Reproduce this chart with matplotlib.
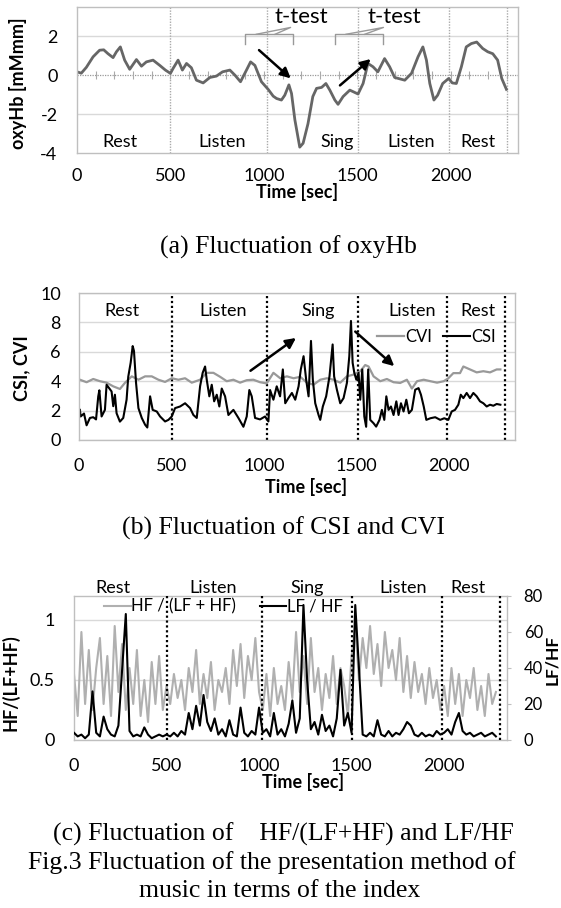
import matplotlib
matplotlib.use("Agg")
import matplotlib.pyplot as plt

plt.rcParams['font.family'] = ['Lato', 'DejaVu Sans']
plt.rcParams['axes.unicode_minus'] = False

# ---------------------------------------------------------------- data
phase_names = ['Rest', 'Listen', 'Sing', 'Listen', 'Rest']
phase_edges = [500, 1015, 1505, 1990, 2300]
time_ticks = [0, 500, 1000, 1500, 2000]

# (a) oxyHb
oxy_t = [0, 23, 50, 86, 121, 143, 166, 193, 211, 232, 255, 282, 318, 345, 371, 407, 443, 473, 500, 514,
         541, 564, 586, 612, 639, 675, 711, 746, 779, 818, 845, 875, 907, 929, 952, 987, 1023, 1050, 1068, 1094,
         1112, 1134, 1148, 1166, 1192, 1210, 1236, 1262, 1282, 1309, 1332, 1353, 1380, 1397, 1424, 1460, 1504, 1531, 1557, 1584,
         1610, 1646, 1673, 1700, 1754, 1790, 1825, 1851, 1870, 1888, 1910, 1930, 1957, 1989, 2008, 2030, 2057, 2083, 2110, 2139,
         2171, 2198, 2225, 2251, 2273, 2298]
oxy_v = [0.17, 0.1, 0.4, 0.94, 1.28, 1.3, 1.1, 0.9, 1.2, 1.45, 0.77, 0.3, 0.8, 0.46, 0.68, 0.77, 0.5, 0.26, 0.09, 0.34,
         0.77, 0.26, 0.6, 0.38, -0.26, -0.4, -0.12, -0.05, 0.17, 0.26, 0, -0.34, 0.26, 0.68, 0.5, -0.34, -0.73, -1.08, -1.2, -1.28,
         -1.03, -0.5, -0.94, -2.3, -3.7, -3.5, -2.5, -1.1, -0.68, -0.63, -0.43, -0.77, -1.28, -1.5, -1.1, -0.77, -0.97, -0.43, 0.6, 0.43,
         0.17, 0.85, 0.43, -0.12, -0.26, 0.09, 0.94, 1.45, 0.77, -0.43, -1.28, -1.03, -0.43, -0.17, -0.4, -0.43, 0.43, 1.45, 1.62, 1.7,
         1.37, 1.2, 1.1, 0.77, -0.17, -0.73]

# (b) CSI and CVI
csi_t = [5, 9, 27, 41, 59, 77, 92, 104, 110, 122, 140, 149, 164, 176, 185, 194, 203, 221, 239, 257,
         266, 279, 290, 297, 308, 321, 339, 357, 369, 384, 398, 420, 438, 465, 483, 501, 519, 546, 573, 600,
         618, 636, 654, 668, 681, 690, 704, 717, 730, 744, 758, 771, 789, 807, 834, 861, 888, 906, 920, 933,
         951, 978, 1005, 1023,
         1032, 1050, 1068, 1086, 1101, 1114, 1131, 1150, 1168, 1186, 1198, 1213, 1227, 1240, 1253, 1263, 1276, 1294, 1303, 1317,
         1335, 1353, 1370, 1378, 1393, 1411, 1429, 1447, 1460, 1469, 1478, 1487, 1498, 1510, 1519, 1530, 1541, 1551, 1562, 1573,
         1591, 1605, 1623, 1636, 1649, 1660, 1672, 1685, 1699, 1714, 1726, 1739, 1753, 1768, 1782, 1798, 1816, 1834, 1847, 1862,
         1876, 1898, 1924, 1951, 1973, 1995, 2013, 2031, 2049, 2062, 2076, 2094, 2112, 2130, 2148, 2166, 2184, 2202, 2220, 2238,
         2256, 2276]
csi_v = [2.05, 1.6, 1.8, 1.0, 1.5, 1.55, 1.4, 2.97, 3.38, 1.6, 2.05, 3.76, 3.5, 3.3, 2.3, 3.08, 1.82, 1.25, 1.5, 2.74,
         4.3, 5.25, 6.39, 6.05, 3.9, 2.17, 1.5, 1.04, 0.85, 2.97, 2.05, 1.94, 1.6, 1.26, 1.37, 1.6, 2.17, 2.28, 2.5, 2.17,
         1.7, 1.5, 3.65, 4.57, 5.0, 4.1, 2.97, 3.76, 2.63, 3.08, 2.28, 3.5, 2.97, 1.7, 2.05, 1.5, 0.9, 1.6, 3.4, 2.97,
         1.5, 1.4, 1.6, 1.26,
         3.4, 2.74, 3.65, 2.97, 4.8, 2.5, 2.85, 3.2, 2.74, 3.65, 4.8, 5.7, 4.1, 2.97, 6.74, 4.1, 2.5, 1.7, 1.37, 2.28,
         2.97, 4.33, 6.5, 4.33, 3.42, 2.5, 2.85, 3.88, 5.7, 8.1, 5.25, 4.57, 4.1, 4.57, 2.74, 4.8, 1.6, 0.9, 4.8, 1.37,
         1.14, 0.91, 1.37, 2.05, 1.37, 2.97, 2.05, 2.28, 1.7, 2.63, 1.7, 2.5, 1.94, 2.74, 1.82, 2.05, 3.42, 3.53, 3.08, 2.28,
         1.37, 1.48, 1.55, 1.37, 1.48, 1.37, 1.94, 2.05, 2.4, 3.08, 2.85, 3.2, 2.85, 3.2, 2.97, 2.63, 2.5, 2.28, 2.4, 2.33,
         2.45, 2.4]
cvi_t = [5, 41, 77, 113, 149, 185, 221, 249, 285, 321, 357, 393, 429, 465, 501, 537, 573, 609, 654, 690,
         726, 762, 798, 834, 870, 906, 942, 978, 1014, 1050, 1087, 1123, 1159, 1195,
         1231, 1267, 1303, 1339, 1375, 1411, 1447, 1483, 1519, 1546, 1564, 1591, 1627, 1663, 1699, 1735,
         1771, 1798, 1826, 1862, 1898, 1934, 1970, 1995, 2022, 2058, 2076, 2112, 2148, 2184, 2220, 2256, 2276]
cvi_v = [4.1, 3.93, 4.15, 4.0, 3.9, 3.65, 3.47, 3.9, 4.33, 4.1, 4.33, 4.33, 4.1, 3.95, 4.2, 4.1, 4.2, 3.9, 4.1, 4.57,
         4.57, 4.3, 4.0, 4.1, 3.9, 4.07, 4.1, 3.93, 3.85, 4.57, 4.2, 4.33, 4.2, 4.3,
         3.9, 3.76, 4.1, 4.2, 4.1, 3.9, 4.33, 4.45, 4.68, 5.1, 5.0, 4.33, 4.0, 4.15, 3.93, 3.88,
         4.1, 3.5, 4.0, 4.1, 4.0, 3.9, 4.0, 4.2, 4.55, 4.55, 5.0, 4.8, 4.6, 4.68, 4.6, 4.8, 4.8]

# (c) HF/(LF+HF) and LF/HF, one sample every 20 s
hrv_t = list(range(0, 2281, 20))
hf_ratio = [0.55, 0.2, 0.9, 0.3, 0.75, 0.25, 0.6, 0.85, 0.3, 0.7, 0.2, 0.95, 0.4, 0.8, 0.25, 0.6, 0.3, 0.75, 0.2, 0.5,
            0.15, 0.65, 0.3, 0.7, 0.25,
            0.45, 0.3, 0.55, 0.35, 0.5, 0.25, 0.6, 0.4, 0.75, 0.3, 0.55, 0.35, 0.65, 0.25, 0.5, 0.4, 0.6, 0.3, 0.75, 0.45,
            0.8, 0.35, 0.7, 0.5, 0.85,
            0.4, 0.25, 0.55, 0.2, 0.6, 0.3, 0.45, 0.25, 0.65, 0.35, 0.9, 0.4, 0.7, 0.3, 0.85, 0.4, 0.6, 0.25, 0.55, 0.35,
            0.7, 0.3, 0.6, 0.45, 0.2,
            0.7, 0.95, 0.5, 0.85, 0.6, 0.95, 0.55, 0.8, 0.45, 0.9, 0.6, 0.75, 0.5, 0.85, 0.4, 0.7, 0.35, 0.65, 0.4, 0.55,
            0.3, 0.6, 0.35, 0.5, 0.25,
            0.45, 0.2, 0.6, 0.3, 0.55, 0.2, 0.5, 0.35, 0.6, 0.25, 0.45, 0.2, 0.55, 0.3, 0.4]
lf_hf = [4, 2, 3, 1, 3, 27, 4, 2, 13, 6, 3, 2, 8, 39, 70, 5, 2, 3, 2, 7, 3, 1, 2, 3, 2,
         3, 2, 4, 2, 5, 3, 15, 6, 19, 8, 25, 10, 5, 12, 3, 6, 2, 11, 3, 2, 18, 4, 2, 5, 3,
         18, 4, 6, 2, 15, 3, 6, 2, 9, 22, 4, 12, 75, 33, 6, 10, 3, 14, 5, 8, 2, 12, 39, 8, 15,
         4, 75, 40, 3, 2, 4, 2, 11, 3, 2, 5, 2, 4, 3, 6, 10, 8, 3, 2, 4, 2, 3, 2, 5, 3,
         4, 6, 3, 10, 15, 5, 3, 4, 2, 3, 4, 2, 3, 4, 2]

# ---------------------------------------------------------------- style
GRID = '#d9d9d9'
FRAME = '#bfbfbf'
TICK_FS = 13
LAB_FS = 13
LEG_FS = 12
CAP_FS = 18.5
SERIF = ['Liberation Serif', 'DejaVu Serif']

W, H = 561, 908
fig = plt.figure(figsize=(W / 100, H / 100), dpi=100)


def box(x0, y0, x1, y1):
    # pixel box (top-left origin) -> figure fraction rect
    return [x0 / W, 1 - y1 / H, (x1 - x0) / W, (y1 - y0) / H]


def ftext(x, y, s, **kw):
    fig.text(x / W, 1 - y / H, s, **kw)


def style_axes(ax, pad_x, pad_y):
    for sp in ax.spines.values():
        sp.set_color(FRAME)
        sp.set_linewidth(1.0)
    ax.tick_params(axis='both', length=0, labelsize=TICK_FS)
    ax.tick_params(axis='x', pad=pad_x)
    ax.tick_params(axis='y', pad=pad_y)
    ax.set_xticks(time_ticks)
    ax.set_axisbelow(True)


# ---------------------------------------------------------------- (a)
ax1 = fig.add_axes(box(77, 7, 518, 153))
style_axes(ax1, 11, 14)
ax1.set_xlim(0, 2360)
ax1.set_ylim(-4, 3.5)
ax1.set_yticks([-4, -2, 0, 2])
for yv in [-2, 2]:
    ax1.axhline(yv, color=GRID, lw=1)
ax1.axhline(0, color='#999999', lw=0.9, ls=(0, (1, 1)))
ax1.plot(range(0, 2301, 100), [0] * 24, ls='none', marker='|', ms=6, mew=0.8, color='#aaaaaa')
for xe in phase_edges:
    ax1.axvline(xe, color='#aaaaaa', lw=1.0, ls=(0, (1, 1)))
ax1.plot(oxy_t, oxy_v, color='#666666', lw=2.0, solid_joinstyle='round')
for name, xc in zip(phase_names, [230, 775, 1390, 1790, 2145]):
    ax1.text(xc, -3.45, name, ha='center', va='center', fontsize=LAB_FS)

# t-test brackets
for (b0, b1, tx) in [(900, 1155, 1203), (1380, 1636, 1700)]:
    ax1.plot([b0, b0, b1, b1], [1.6, 2.1, 2.1, 1.6], color='#999999', lw=1)
    ax1.plot([b0 + 60, tx - 60, b0 + 160], [2.1, 2.45, 2.1], color='#999999', lw=1)
    ax1.text(tx, 3.0, 't-test', ha='center', va='center', fontsize=16)
arrow_kw = dict(arrowstyle='-|>,head_length=0.6,head_width=0.3', color='black', lw=1.8)
ax1.annotate('', xy=(1155, -0.26), xytext=(963, 1.38), arrowprops=arrow_kw)
ax1.annotate('', xy=(1583, 0.92), xytext=(1396, -0.62), arrowprops=arrow_kw)

ftext(18, 83, 'oxyHb [mMmm]', rotation=90, ha='center', va='center', fontsize=LAB_FS, fontweight='bold')
ftext(297, 192, 'Time [sec]', ha='center', va='center', fontsize=LAB_FS, fontweight='bold')
ftext(288, 247, '(a) Fluctuation of oxyHb', ha='center', va='center', fontsize=CAP_FS, family=SERIF)

# ---------------------------------------------------------------- (b)
ax2 = fig.add_axes(box(79, 293, 515, 440))
style_axes(ax2, 13, 13)
ax2.set_xlim(0, 2355)
ax2.set_ylim(0, 10)
ax2.set_yticks([0, 2, 4, 6, 8, 10])
ax2.grid(axis='y', color=GRID, lw=1)
for xe in phase_edges:
    ax2.axvline(xe, color='black', lw=1.6, ls=(0, (1, 1.2)))
ax2.plot(cvi_t, cvi_v, color='#999999', lw=1.6, label='CVI')
ax2.plot(csi_t, csi_v, color='black', lw=1.5, label='CSI')
for name, xc in zip(phase_names, [232, 780, 1292, 1800, 2157]):
    ax2.text(xc, 8.75, name, ha='center', va='center', fontsize=LAB_FS)
ax2.annotate('', xy=(1184, 7.05), xytext=(914, 4.6), arrowprops=arrow_kw)
ax2.annotate('', xy=(1714, 4.9), xytext=(1481, 7.5), arrowprops=arrow_kw)
ax2.legend(loc='center', bbox_to_anchor=(0.82, 0.70), ncol=2, frameon=False, fontsize=LEG_FS,
           handlelength=1.6, handletextpad=0.05, columnspacing=0.7, borderpad=0)

ftext(22, 368, 'CSI, CVI', rotation=90, ha='center', va='center', fontsize=LAB_FS, fontweight='bold')
ftext(306, 487, 'Time [sec]', ha='center', va='center', fontsize=LAB_FS, fontweight='bold')
ftext(283, 528, '(b) Fluctuation of CSI and CVI', ha='center', va='center', fontsize=CAP_FS, family=SERIF)

# ---------------------------------------------------------------- (c)
ax3 = fig.add_axes(box(74, 596, 507, 740))
style_axes(ax3, 13, 14)
ax3.set_xlim(0, 2340)
ax3.set_ylim(0, 1.2)
ax3.set_yticks([0, 0.5, 1])
ax3.set_yticklabels(['0', '0.5', '1'])
ax3.grid(axis='y', color=GRID, lw=1)
l1, = ax3.plot(hrv_t, hf_ratio, color='#b0b0b0', lw=1.5, label='HF / (LF + HF)')
ax3r = ax3.twinx()
ax3r.set_ylim(0, 80)
ax3r.set_yticks([0, 20, 40, 60, 80])
for sp in ax3r.spines.values():
    sp.set_visible(False)
ax3r.tick_params(axis='y', length=3, color=FRAME, labelsize=12, pad=9)
l2, = ax3r.plot(hrv_t, lf_hf, color='black', lw=1.5, label='LF / HF')
for xe in phase_edges:
    ax3r.axvline(xe, color='black', lw=1.6, ls=(0, (1, 1.2)))
ax3r.legend(handles=[l1, l2], loc='center', bbox_to_anchor=(0.345, 0.925), ncol=2, frameon=False,
            fontsize=LEG_FS, handlelength=1.6, handletextpad=0.05, columnspacing=1.4, borderpad=0)
for name, xc in zip(phase_names, [211, 751, 1259, 1778, 2130]):
    ax3.text(xc, 1.27, name, ha='center', va='center', fontsize=LAB_FS, clip_on=False)

ftext(10, 683, 'HF/(LF+HF)', rotation=90, ha='center', va='center', fontsize=LAB_FS, fontweight='bold')
ftext(552, 660, 'LF/HF', rotation=90, ha='center', va='center', fontsize=12.5, fontweight='bold')
ftext(303, 782, 'Time [sec]', ha='center', va='center', fontsize=LAB_FS, fontweight='bold')
ftext(283, 834, '(c) Fluctuation of    HF/(LF+HF) and LF/HF', ha='center', va='center', fontsize=CAP_FS, family=SERIF)
ftext(272, 863, 'Fig.3 Fluctuation of the presentation method of', ha='center', va='center', fontsize=CAP_FS, family=SERIF)
ftext(280, 891, 'music in terms of the index', ha='center', va='center', fontsize=CAP_FS, family=SERIF)

fig.savefig('out.png', dpi=100)
